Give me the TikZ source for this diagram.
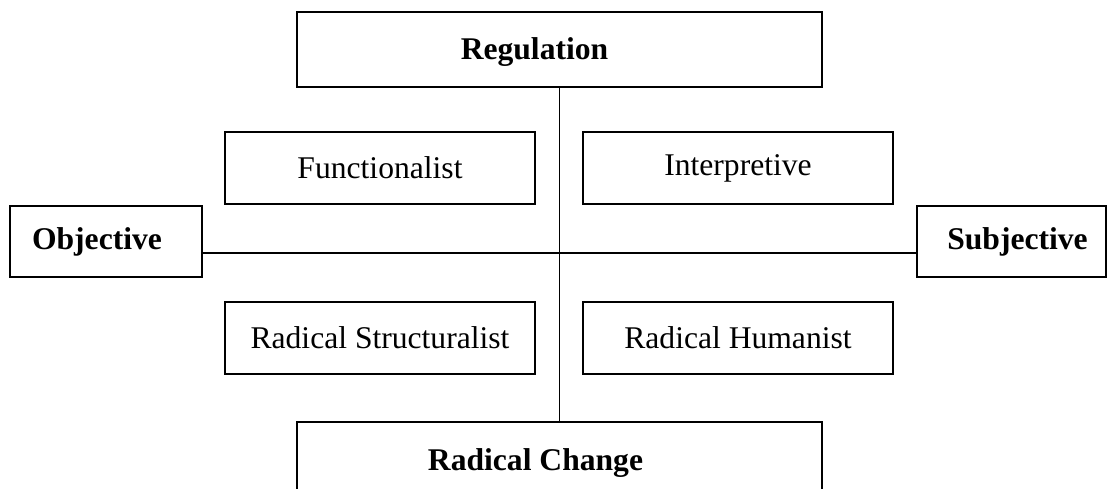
\documentclass[tikz,border=0pt]{standalone}
\usepackage{fontspec}
\setmainfont{Liberation Serif}
\begin{document}
\begin{tikzpicture}[x=1pt,y=-1pt,
  box/.style={draw=black,line width=1.7pt,inner sep=0pt,align=center,
    font=\fontsize{31.6}{38}\selectfont},
  bigbox/.style={box,minimum width=525pt,minimum height=75pt},
  quad/.style={box,minimum width=310pt,minimum height=72pt},
  side/.style={box,minimum height=71pt},
  btext/.style={font=\fontsize{31.6}{38}\selectfont\bfseries},
  axis/.style={line width=1.8pt,draw=black}]
\useasboundingbox (0,0) rectangle (1108,489);
\clip (0,0) rectangle (1108,489);
\node[bigbox,label={[btext,xshift=-25pt,yshift=-3pt]center:Regulation}] (reg) at (559.5,49.5) {};
\node[bigbox,label={[btext,xshift=-24pt,yshift=-4pt]center:Radical Change}] (rc) at (559.5,459.5) {};
\node[quad] (fun) at (380,168) {Functionalist};
\node[quad] (int) at (738,168) {Interpretive};
\node[quad] (rs) at (380,338) {Radical Structuralist};
\node[quad] (rh) at (738,338) {Radical Humanist};
\node[side,minimum width=192pt,label={[btext,xshift=-9pt]center:Objective}] (obj) at (106,241.5) {};
\node[side,minimum width=189pt,label={[btext,xshift=6pt]center:Subjective}] (sub) at (1011.5,241.5) {};
\draw[axis] (reg.south) -- (rc.north);
\draw[axis] ([yshift=-11.5pt]obj.east) -- ([yshift=-11.5pt]sub.west);
\end{tikzpicture}
\end{document}
